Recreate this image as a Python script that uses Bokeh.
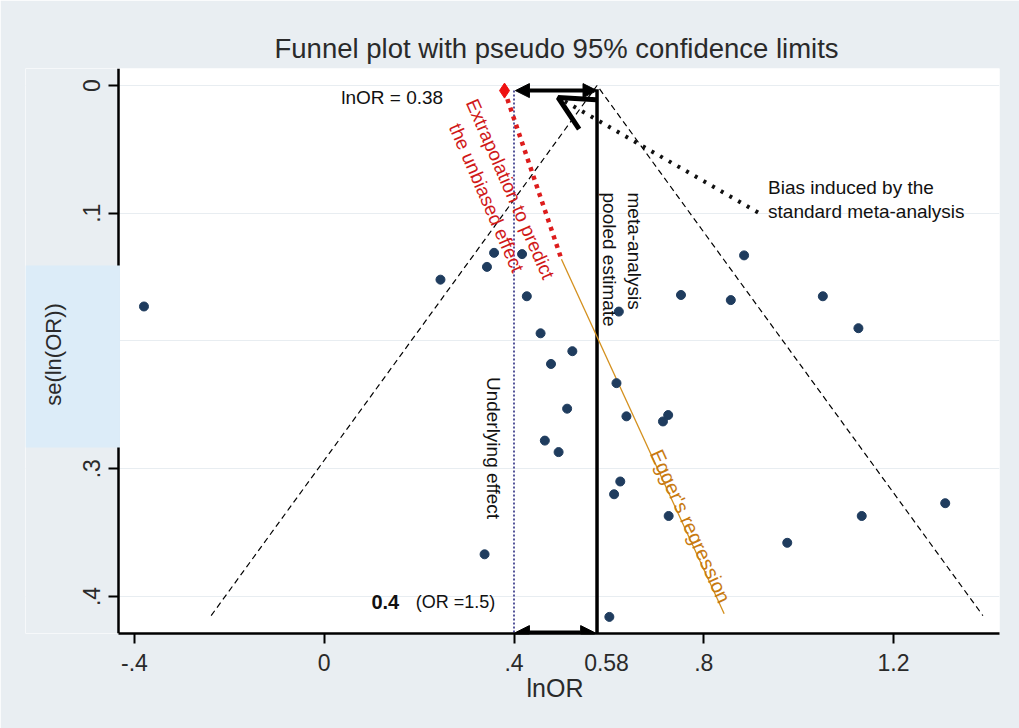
import math
from bokeh.plotting import figure
from bokeh.models import (Range1d, FixedTicker, Label, Arrow, NormalHead, OpenHead,
                          BoxAnnotation, Title)
from bokeh.embed import file_html
from bokeh.resources import INLINE

# ---------------- data ----------------
study_lnor = [-0.380, 0.245, 0.343, 0.358, 0.417, 0.427, 0.456, 0.523, 0.621, 0.752,
              0.857, 0.885, 1.051, 1.126, 0.478, 0.616, 0.512, 0.637, 0.725, 0.714,
              0.465, 0.494, 0.624, 0.611, 0.726, 0.338, 0.601, 1.309, 1.133, 0.976]
study_se = [0.173, 0.152, 0.142, 0.131, 0.132, 0.165, 0.194, 0.208, 0.177, 0.164,
            0.168, 0.133, 0.165, 0.190, 0.218, 0.233, 0.253, 0.259, 0.258, 0.263,
            0.278, 0.287, 0.310, 0.320, 0.337, 0.367, 0.416, 0.327, 0.337, 0.358]

pooled = 0.575          # meta-analysis pooled estimate (shown as 0.58)
underlying = 0.40       # underlying effect
unbiased = 0.38         # extrapolated unbiased effect
funnel_se_max = 0.415

extrap_lnor = [0.38, 0.50]
extrap_se = [0.004, 0.136]
egger_lnor = [0.50, 0.843]
egger_se = [0.136, 0.4135]

bias_tail = (0.9145, 0.0994)
bias_tip = (0.493, 0.0094)

pooled_label_pos = 0.595   # where the "0.58" note sits, just right of the pooled line
x_ticks = [-0.4, 0.0, 0.4, pooled_label_pos, 0.8, 1.2]
x_tick_labels = ["-.4", "0", ".4", "0.58", ".8", "1.2"]
x_tick_marks = [-0.4, 0.0, 0.4, 0.8, 1.2]
y_ticks = [0.0, 0.1, 0.2, 0.3, 0.4]
y_tick_labels = ["0", ".1", ".2", ".3", ".4"]

# plot region (white area) in data units
X0, X1 = -0.4337, 1.4234
Y0, Y1 = -0.0133, 0.4290

W, H = 1019, 728
PX_PER_X = 474.4
LEFT = 25                      # frame starts here (grey margin is inside the frame)
XS = X0 - (118 - LEFT) / PX_PER_X
F = "Liberation Sans"

# ---------------- figure ----------------
BG = "#e9eef2"
p = figure(width=W, height=H, output_backend="svg", toolbar_location=None,
           x_range=Range1d(XS, X1), y_range=Range1d(Y1, Y0),
           min_border_left=LEFT, min_border_right=20, min_border_top=68,
           min_border_bottom=95,
           title="Funnel plot with pseudo 95% confidence limits")
p.border_fill_color = BG
p.background_fill_color = "white"
p.outline_line_color = None

p.title.align = "left"
p.title.offset = 249
p.title.text_font = F
p.title.text_font_size = "27.5px"
p.title.text_font_style = "normal"
p.title.text_color = "#2a2a2a"

for ax in (p.xaxis[0], p.yaxis[0]):
    ax.axis_line_color = "black"
    ax.axis_line_width = 2.5
    ax.major_tick_line_color = "black"
    ax.major_tick_line_width = 2
    ax.major_tick_out = 10
    ax.major_tick_in = 0
    ax.minor_tick_line_color = None
    ax.major_label_text_font = F
    ax.major_label_text_font_size = "23px"
    ax.major_label_text_color = "#2a2a2a"

p.xaxis.ticker = FixedTicker(ticks=x_ticks, minor_ticks=x_tick_marks)
p.xaxis.bounds = (X0, X1)
p.xaxis.major_label_overrides = dict(zip(x_ticks, x_tick_labels))
p.xaxis.major_tick_line_color = None
p.xaxis.minor_tick_line_color = "black"
p.xaxis.minor_tick_line_width = 2
p.xaxis.minor_tick_out = 10
p.xaxis.minor_tick_in = 0
p.xaxis.major_label_standoff = 10

# x axis title, placed under the plot region (not the whole frame)
p.add_layout(Title(text="lnOR", align="left", offset=501, vertical_align="top",
                   text_font=F, text_font_size="25px", text_font_style="normal",
                   text_color="#2a2a2a", standoff=0), "below")

p.yaxis.ticker = FixedTicker(ticks=y_ticks)
p.yaxis.fixed_location = X0
p.yaxis.major_label_overrides = dict(zip(y_ticks, y_tick_labels))
p.yaxis.major_label_orientation = "parallel"
p.yaxis.major_label_standoff = 8

p.xgrid.grid_line_color = None
p.ygrid.grid_line_color = "#e8edf1"
p.ygrid.grid_line_width = 1

# grey margin to the left of the plot region
p.quad(left=[XS], right=[X0], top=[Y0], bottom=[Y1], fill_color=BG, line_color=None)

# funnel (pseudo 95% limits)
p.line([pooled - 1.96 * funnel_se_max, pooled, pooled + 1.96 * funnel_se_max],
       [funnel_se_max, 0.0, funnel_se_max],
       line_color="black", line_width=1.2, line_dash="6 4")

# underlying effect (dotted)
p.line([underlying, underlying], [0.004, Y1], line_color="#55559a",
       line_width=2, line_dash="2 2")

# pooled estimate line
p.line([pooled, pooled], [0.003, Y1], line_color="black", line_width=3.5)

# Egger's regression line and extrapolation
p.line(egger_lnor, egger_se, line_color="#d4901e", line_width=1.3)
p.line(extrap_lnor, extrap_se, line_color="#dd1c1c", line_width=4.5, line_dash="4 5")

# studies
p.scatter(study_lnor, study_se, size=9, color="#1f3c5e", marker="circle")

# unbiased effect marker
p.scatter([unbiased], [0.004], size=15, color="#ee1111", marker="diamond")

# arrows
p.add_layout(Arrow(x_start=underlying + 0.003, y_start=0.004, x_end=pooled, y_end=0.004,
                   line_width=4, line_color="black",
                   start=NormalHead(size=14, fill_color="black", line_color="black"),
                   end=NormalHead(size=14, fill_color="black", line_color="black")))
p.add_layout(Arrow(x_start=underlying + 0.003, y_start=0.4283, x_end=pooled - 0.005, y_end=0.4283,
                   line_width=4, line_color="black",
                   start=NormalHead(size=14, fill_color="black", line_color="black"),
                   end=NormalHead(size=14, fill_color="black", line_color="black")))
p.add_layout(Arrow(x_start=bias_tail[0], y_start=bias_tail[1], x_end=bias_tip[0], y_end=bias_tip[1],
                   line_width=4, line_color="#111111", line_dash="3 7",
                   end=OpenHead(size=34, line_width=5, line_color="black")))


def lab(**kw):
    kw.setdefault("text_font", F)
    kw.setdefault("text_font_size", "19px")
    kw.setdefault("text_color", "#111111")
    p.add_layout(Label(**kw))

lab(x=0.0358, y=0.0094, text="lnOR = 0.38", text_baseline="middle")
lab(x=0.392, y=0.081, text="Extrapolation to predict", angle=-1.16,
    text_align="center", text_baseline="middle", text_color="#d01818")
lab(x=0.342, y=0.088, text="the unbiased effect", angle=-1.16,
    text_align="center", text_baseline="middle", text_color="#d01818")
lab(x=0.654, y=0.0838, text="meta-analysis", angle=-math.pi / 2,
    text_align="left", text_baseline="middle")
lab(x=0.601, y=0.0838, text="pooled estimate", angle=-math.pi / 2,
    text_align="left", text_baseline="middle")
lab(x=0.3561, y=0.2838, text="Underlying effect", angle=-math.pi / 2,
    text_align="center", text_baseline="middle")
lab(x=0.9355, y=0.0798, text="Bias induced by the", text_baseline="middle")
lab(x=0.9355, y=0.0986, text="standard meta-analysis", text_baseline="middle")
lab(x=0.158, y=0.4047, text="0.4", text_align="right", text_baseline="middle",
    text_font_style="bold", text_font_size="20px")
lab(x=0.193, y=0.4047, text="(OR =1.5)", text_baseline="middle", text_font_size="18px")
lab(x=0.772, y=0.345, text="Egger's regression", angle=-1.141,
    text_align="center", text_baseline="middle", text_color="#c87a10",
    text_font_size="20px")

# highlighted y-axis label (covers part of the axis, as in the source image)
p.add_layout(BoxAnnotation(left=XS, right=X0 + 1.5 / PX_PER_X, top=0.1409, bottom=0.2834,
                           fill_color="#dcecf8", fill_alpha=1.0, line_color=None))
lab(x=X0 - 65 / PX_PER_X, y=0.2106, text="se(ln(OR))", angle=math.pi / 2,
    text_align="center", text_baseline="middle", text_font_size="22px",
    text_color="#2a2a2a")

open("out.html", "w").write(file_html(p, INLINE))
